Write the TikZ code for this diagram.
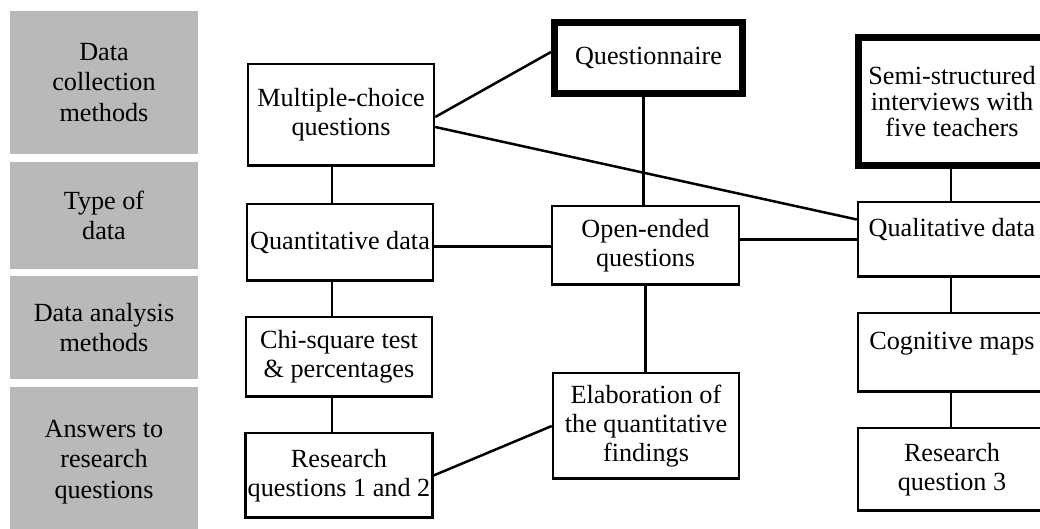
\documentclass[tikz,border=0pt]{standalone}
\usepackage{fontspec}
\setmainfont{Liberation Serif}
\usepackage{xcolor}
\usetikzlibrary{positioning}
\definecolor{catgray}{RGB}{185,185,185}

\begin{document}
\begin{tikzpicture}[x=0.5pt, y=-0.5pt,
			every node/.style={font=\fontsize{13.1}{14.6}\selectfont},
			catbox/.style={rectangle, fill=catgray, align=center, minimum width=94pt,
					inner sep=0pt, font=\fontsize{13.1}{15.3}\selectfont},
			block/.style={rectangle, draw, line width=1.25pt, align=center,
					minimum width=93pt, inner sep=1pt},
			srcblock/.style={block, line width=3.5pt},
			hightext/.style={text height=9pt, text depth=12pt},
			link/.style={line width=1.25pt}
		]
		\useasboundingbox (0,0) rectangle (1040,529);

		% row labels
		\node[catbox, minimum height=71.5pt] (collect) at (104,82.5) {Data\\collection\\methods};
		\node[catbox, minimum height=53.5pt] (dtype) at (104,215.5) {Type of\\data};
		\node[catbox, minimum height=51.5pt] (analysis) at (104,327.5) {Data analysis\\methods};
		\node[catbox, minimum height=75pt] (answers) at (104,462) {Answers to\\research\\questions};

		% quantitative strand
		\node[block, minimum height=50.75pt] (mc) at (341,115) {Multiple-choice\\questions};
		\node[block, minimum height=38.25pt] (quant) at (340,242.5) {Quantitative data};
		\node[block, minimum height=39.75pt] (chi) at (339,357) {Chi-square test\\\& percentages};
		\node[block, minimum height=42.25pt] (rq12) at (339,475.5) {Research\\questions 1 and 2};

		% questionnaire and open questions
		\node[srcblock, minimum width=94pt, minimum height=35.5pt] (quest) at (648.5,58) {Questionnaire};
		\node[block, minimum width=93.5pt, minimum height=39.25pt] (open) at (645.5,245.5) {Open-ended\\questions};
		\node[block, minimum height=52.75pt] (elab) at (646,426) {Elaboration of\\the quantitative\\findings};

		% qualitative strand
		\node[srcblock, minimum width=94pt, minimum height=64pt,
			font=\fontsize{13.1}{13}\selectfont] (semi) at (952,101.5) {Semi-structured\\interviews with\\five teachers};
		\node[block, hightext, minimum width=94pt, minimum height=37.25pt] (qual) at (952,239.5) {Qualitative data};
		\node[block, hightext, minimum width=94pt, minimum height=39.25pt] (cog) at (952,352.5) {Cognitive maps};
		\node[block, minimum width=94pt, minimum height=41.25pt] (rq3) at (952,469.5) {Research\\question 3};

		% connections
		\draw[link] ([yshift=-1pt]mc.east) -- ([yshift=3pt]quest.west);
		\draw[link] ([yshift=-6pt]mc.east) -- ([yshift=10pt]qual.west);
		\draw[link] ([xshift=-4.5pt]mc.south) -- ([xshift=-4pt]quant.north);
		\draw[link] ([xshift=-4pt]quant.south) -- ([xshift=-3.5pt]chi.north);
		\draw[link] ([xshift=-3.5pt]chi.south) -- ([xshift=-3.5pt]rq12.north);
		\draw[link] ([yshift=-2pt]quant.east) -- ([yshift=-2pt]quant.east -| open.west);
		\draw[link] (qual.west) -- (qual.west -| open.east);
		\draw[link] ([xshift=-1pt]open.north) -- ([xshift=-1pt]open.north |- quest.south);
		\draw[link] (open.south) -- (open.south |- elab.north);
		\draw[link] (rq12.east) -- (elab.west);
		\draw[link] ([xshift=-0.5pt]semi.south) -- ([xshift=-0.5pt]qual.north);
		\draw[link] ([xshift=-0.5pt]qual.south) -- ([xshift=-0.5pt]cog.north);
		\draw[link] ([xshift=-0.5pt]cog.south) -- ([xshift=-0.5pt]rq3.north);
	\end{tikzpicture}
\end{document}
